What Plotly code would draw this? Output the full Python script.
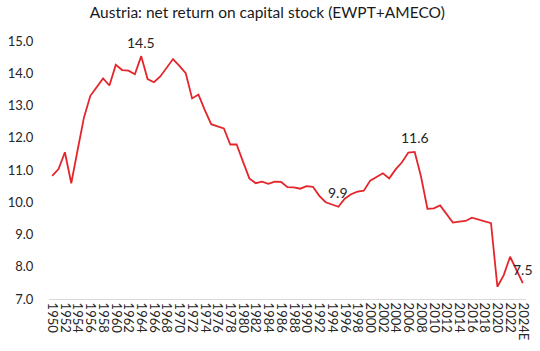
import plotly.graph_objects as go

years = [str(y) for y in range(1950, 2024)] + ["2024E"]
values = [
    10.82, 11.03, 11.55, 10.59, 11.62, 12.63, 13.30, 13.56, 13.84, 13.62,
    14.26, 14.10, 14.08, 13.97, 14.53, 13.82, 13.72, 13.90, 14.18, 14.44,
    14.23, 14.00, 13.22, 13.34, 12.86, 12.42, 12.35, 12.29, 11.79, 11.79,
    11.26, 10.74, 10.59, 10.64, 10.57, 10.64, 10.63, 10.47, 10.46, 10.42,
    10.50, 10.48, 10.20, 10.00, 9.93, 9.86, 10.11, 10.25, 10.33, 10.36,
    10.67, 10.79, 10.90, 10.74, 11.02, 11.24, 11.54, 11.56, 10.79, 9.80,
    9.81, 9.90, 9.62, 9.37, 9.40, 9.42, 9.52, 9.46, 9.40, 9.35,
    7.38, 7.74, 8.31, 7.90, 7.49,
]
labelled_years = ["1964", "1995", "2007", "2024E"]
tick_years = years[::2]
y_ticks = [7, 8, 9, 10, 11, 12, 13, 14, 15]

title = "Austria: net return on capital stock (EWPT+AMECO)"
FONT = "Lato"

fig = go.Figure()
fig.add_trace(go.Scatter(
    x=years, y=values, mode="lines",
    line=dict(color="#E3262B", width=1.8),
    hoverinfo="skip", showlegend=False,
))

for yr in labelled_years:
    i = years.index(yr)
    v = values[i]
    fig.add_annotation(
        x=i, y=v, xref="x", yref="y", text=f"{v:.1f}", showarrow=False,
        yanchor="middle", xanchor="center", yshift=14,
        font=dict(family=FONT, size=14, color="#262626"),
    )

fig.update_layout(
    width=540, height=351,
    margin=dict(l=44, r=8, t=41, b=52),
    paper_bgcolor="white", plot_bgcolor="white",
    title=dict(text=title, x=0.495, xanchor="center", y=0.963, yanchor="middle",
               font=dict(family=FONT, size=15.5, color="#1a1a1a")),
    font=dict(family=FONT, color="#262626"),
)
fig.update_xaxes(
    type="category", categoryorder="array", categoryarray=years,
    range=[-0.5, len(years) - 0.5],
    tickmode="array", tickvals=tick_years, ticktext=tick_years,
    tickangle=90, tickfont=dict(family=FONT, size=13, color="#262626"),
    showgrid=False, showline=True, linecolor="#d9d9d9", linewidth=1,
    ticks="", zeroline=False,
)
fig.update_yaxes(
    range=[7, 15], tickmode="array", tickvals=y_ticks,
    ticktext=[f"{v:.1f}" for v in y_ticks],
    tickfont=dict(family=FONT, size=13, color="#262626"),
    showgrid=False, zeroline=False, showline=False,
    ticks="outside", ticklen=12, tickcolor="rgba(0,0,0,0)",
)

fig.write_html("out.html")
